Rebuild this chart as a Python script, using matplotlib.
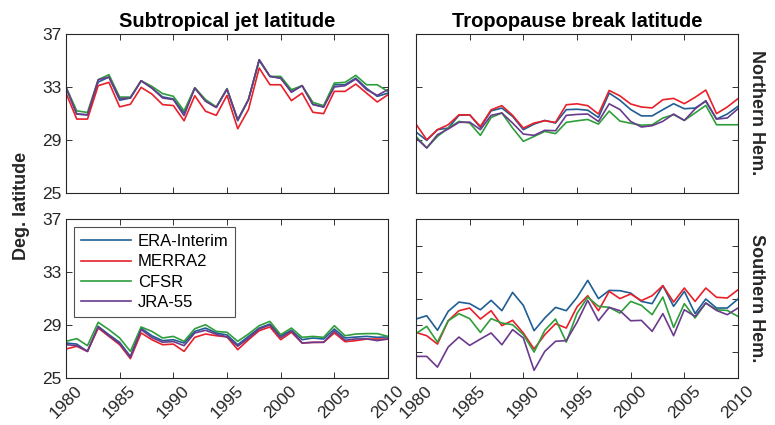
import numpy as np
import matplotlib.pyplot as plt

plt.rcParams['font.family'] = ['Liberation Sans', 'DejaVu Sans']

years = np.arange(1980, 2011)
names = ['ERA-Interim', 'MERRA2', 'CFSR', 'JRA-55']
colors = ['#1f5e94', '#e8202a', '#2e9e3a', '#6a3a8c']

# subtropical jet latitude, northern hemisphere
stj_nh_era = [32.97, 30.96, 30.9, 33.37, 33.75, 32.0, 32.17, 33.47, 32.92, 32.25, 32.1, 31.04, 32.92, 31.95, 31.46, 32.84,
              30.45, 32.05, 35.0, 33.8, 33.67, 32.66, 33.1, 31.7, 31.49, 33.17, 33.17, 33.67, 32.9, 32.29, 32.54]
stj_nh_merra = [32.54, 30.58, 30.58, 33.1, 33.35, 31.5, 31.7, 32.97, 32.47, 31.67, 31.6, 30.45, 32.34, 31.17, 30.86, 32.37,
                29.85, 31.3, 34.43, 33.17, 33.17, 31.97, 32.54, 31.09, 30.99, 32.67, 32.67, 33.22, 32.54, 31.87, 32.42]
stj_nh_cfsr = [33.0, 31.2, 31.08, 33.55, 33.93, 32.24, 32.24, 33.47, 33.05, 32.5, 32.3, 31.2, 32.95, 32.05, 31.5, 32.88,
               30.53, 32.05, 35.06, 33.8, 33.8, 32.8, 33.1, 31.84, 31.59, 33.3, 33.35, 33.88, 33.17, 33.17, 32.66]
stj_nh_jra = [32.97, 30.96, 30.9, 33.55, 33.75, 32.12, 32.17, 33.47, 32.92, 32.17, 32.05, 30.84, 32.92, 31.92, 31.46, 32.84,
              30.53, 32.05, 35.06, 33.8, 33.67, 32.6, 33.1, 31.67, 31.49, 33.0, 33.1, 33.6, 32.8, 32.37, 32.8]

# tropopause break latitude, northern hemisphere
tb_nh_era = [29.6, 28.97, 29.78, 29.9, 30.86, 30.9, 29.95, 31.2, 31.41, 30.78, 29.78, 30.2, 30.48, 30.28, 31.29, 31.32,
             31.25, 30.7, 32.54, 32.0, 31.3, 30.82, 30.82, 31.29, 31.74, 31.36, 31.41, 31.92, 30.58, 30.96, 31.54]
tb_nh_merra = [30.2, 29.02, 29.78, 30.15, 30.9, 30.9, 30.02, 31.28, 31.59, 30.86, 29.9, 30.28, 30.45, 30.33, 31.66, 31.73,
               31.59, 30.96, 32.74, 32.33, 31.72, 31.49, 31.42, 32.04, 32.14, 31.74, 32.22, 32.77, 30.99, 31.49, 32.12]
tb_nh_cfsr = [29.27, 28.4, 29.27, 29.9, 30.4, 30.28, 29.35, 30.7, 31.04, 29.9, 28.9, 29.27, 29.65, 29.48, 30.33, 30.45,
              30.55, 30.2, 31.18, 30.43, 30.26, 30.12, 30.15, 30.66, 30.91, 30.48, 31.04, 31.61, 30.15, 30.15, 30.15]
tb_nh_jra = [29.15, 28.4, 29.4, 29.83, 30.33, 30.35, 29.78, 30.86, 31.04, 30.28, 29.45, 29.35, 29.73, 29.7, 30.86, 30.93,
             30.96, 30.4, 31.73, 31.3, 30.4, 29.98, 30.08, 30.41, 30.96, 30.48, 31.34, 31.97, 30.58, 30.66, 31.36]

# subtropical jet latitude, southern hemisphere (absolute value)
stj_sh_era = [27.64, 27.56, 27.01, 28.9, 28.27, 27.69, 26.63, 28.77, 28.19, 27.82, 27.89, 27.64, 28.52, 28.77, 28.4, 28.25,
              27.51, 28.14, 28.77, 29.07, 28.19, 28.6, 27.89, 28.02, 27.94, 28.7, 28.02, 28.09, 28.14, 28.07, 28.1]
stj_sh_merra = [27.19, 27.39, 27.01, 28.77, 28.14, 27.51, 26.46, 28.4, 27.89, 27.51, 27.56, 27.01, 28.07, 28.32, 28.19, 28.1,
                27.14, 27.89, 28.57, 28.85, 27.89, 28.45, 27.64, 27.69, 27.69, 28.4, 27.74, 27.82, 27.94, 27.94, 27.94]
stj_sh_cfsr = [27.77, 27.97, 27.44, 29.2, 28.65, 28.02, 27.01, 28.85, 28.52, 28.02, 28.14, 27.77, 28.72, 29.02, 28.52, 28.45,
               27.77, 28.32, 28.95, 29.27, 28.27, 28.77, 28.07, 28.14, 28.07, 28.95, 28.19, 28.32, 28.35, 28.35, 28.14]
stj_sh_jra = [27.51, 27.45, 27.01, 28.85, 28.2, 27.6, 26.55, 28.65, 28.05, 27.7, 27.75, 27.44, 28.4, 28.6, 28.3, 28.1,
              27.4, 28.0, 28.7, 29.0, 28.05, 28.55, 27.64, 27.69, 27.7, 28.55, 27.85, 27.95, 27.95, 27.82, 27.94]

# tropopause break latitude, southern hemisphere (absolute value)
tb_sh_era = [29.45, 29.7, 28.6, 30.03, 30.73, 30.61, 30.15, 30.86, 30.08, 31.46, 30.48, 28.57, 29.53, 30.33, 30.08, 31.08,
             32.37, 30.99, 31.61, 31.59, 31.41, 30.78, 30.61, 31.97, 30.41, 31.54, 29.86, 30.96, 30.28, 30.28, 30.96]
tb_sh_merra = [28.44, 28.19, 27.56, 29.32, 30.08, 30.28, 29.45, 30.08, 28.95, 29.35, 28.4, 27.19, 28.27, 29.1, 28.77, 30.37,
               31.21, 30.08, 31.54, 30.99, 31.34, 30.84, 31.21, 31.97, 30.73, 31.79, 30.78, 31.79, 31.09, 31.04, 31.66]
tb_sh_cfsr = [28.35, 28.9, 27.71, 29.32, 29.85, 29.48, 28.44, 29.48, 29.15, 29.02, 28.27, 26.96, 28.6, 29.45, 27.71, 29.87,
              31.11, 30.41, 30.33, 29.9, 30.78, 30.48, 29.78, 31.11, 28.82, 30.61, 29.53, 30.66, 30.15, 30.1, 29.65]
tb_sh_jra = [26.63, 26.63, 25.82, 27.34, 28.09, 27.46, 27.94, 28.4, 27.51, 28.65, 28.02, 25.58, 27.01, 27.77, 27.82, 29.2,
             30.86, 29.32, 30.33, 30.08, 29.32, 29.35, 28.52, 29.86, 28.19, 30.15, 29.65, 30.66, 30.1, 29.78, 30.28]

panels = [
    [stj_nh_era, stj_nh_merra, stj_nh_cfsr, stj_nh_jra],
    [tb_nh_era, tb_nh_merra, tb_nh_cfsr, tb_nh_jra],
    [stj_sh_era, stj_sh_merra, stj_sh_cfsr, stj_sh_jra],
    [tb_sh_era, tb_sh_merra, tb_sh_cfsr, tb_sh_jra],
]

fig = plt.figure(figsize=(7.75, 4.25), dpi=100)
W, H = 775.0, 425.0
boxes = [(66, 34), (416, 34), (66, 219), (416, 219)]
axes = []
for (x0, y0) in boxes:
    ax = fig.add_axes([x0 / W, 1 - (y0 + 159) / H, 322 / W, 159 / H])
    axes.append(ax)

tick_grey = '#333333'
for k, ax in enumerate(axes):
    for name, col, vals in zip(names, colors, panels[k]):
        ax.plot(years, vals, color=col, lw=1.2, label=name)
    ax.set_xlim(1980, 2010)
    ax.set_ylim(25, 37)
    ax.set_xticks(np.arange(1980, 2011, 5))
    if k == 3:
        ax.set_yticks(np.arange(25, 38, 2))
    else:
        ax.set_yticks([25, 29, 33, 37])
    ax.tick_params(direction='in', top=True, right=True, length=4, width=0.7,
                   colors=tick_grey, labelsize=12.5, labelcolor='#262626')
    for s in ax.spines.values():
        s.set_color('#262626')
        s.set_linewidth(0.8)
    if k in (1, 3):
        ax.set_yticklabels([])
    if k in (0, 1):
        ax.set_xticklabels([])
    else:
        ax.set_xticklabels([str(y) for y in range(1980, 2011, 5)], rotation=45,
                           ha='center', va='top')

axes[0].set_title('Subtropical jet latitude', fontsize=14.5, fontweight='bold', pad=5)
axes[1].set_title('Tropopause break latitude', fontsize=14.5, fontweight='bold', pad=5)

leg = axes[2].legend(loc='upper left', fontsize=12, frameon=True, fancybox=False,
                     borderaxespad=0.5, handlelength=3.0, labelspacing=0.32,
                     borderpad=0.4, handletextpad=0.4)
leg.get_frame().set_edgecolor('#262626')
leg.get_frame().set_linewidth(0.8)

fig.text(22 / W, 1 - 206 / H, 'Deg. latitude', rotation=90, ha='center', va='center',
         fontsize=13, fontweight='bold', color='#262626')
fig.text(757 / W, 1 - 113 / H, 'Northern Hem.', rotation=-90, ha='center', va='center',
         fontsize=13, fontweight='bold', color='#262626')
fig.text(757 / W, 1 - 298 / H, 'Southern Hem.', rotation=-90, ha='center', va='center',
         fontsize=13, fontweight='bold', color='#262626')

fig.savefig('out.png', dpi=100)
